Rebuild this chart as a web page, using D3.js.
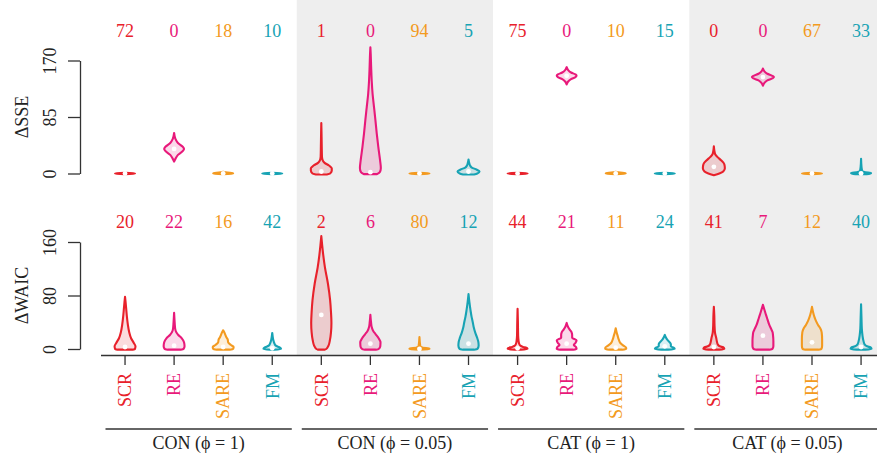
<!DOCTYPE html>
<html>
<head>
<meta charset="utf-8">
<script src="https://cdn.jsdelivr.net/npm/d3@7"></script>
<style>
  body { margin: 0; background: #fff; }
  svg { display: block; font-family: "Liberation Serif", "Times New Roman", serif; }
</style>
</head>
<body>
<svg id="chart" width="877" height="453"></svg>
<script>
// ---- data ----
const methods = ["SCR", "RE", "SARE", "FM"];
const groups = ["CON (ϕ = 1)", "CON (ϕ = 0.05)", "CAT (ϕ = 1)", "CAT (ϕ = 0.05)"];
const methodColors = ["#e8212b", "#e8197a", "#f39a20", "#17a3b4"];

const sseTicks = [0, 85, 170];
const waicTicks = [0, 80, 160];

// number of runs in which each method scored best, per setting
const sseCounts  = [72, 0, 18, 10,  1, 0, 94, 5,  75, 0, 10, 15,  0, 0, 67, 33];
const waicCounts = [20, 22, 16, 42,  2, 6, 80, 12,  44, 21, 11, 24,  41, 7, 12, 40];

// violin outlines: [value, relative half-width]
const flat = [[-1, 0], [-0.4, 0.9], [0.4, 0.9], [1, 0]];
const sseProfiles = [
  flat,
  [[18, 0], [22, 0.12], [28, 0.35], [34, 0.8], [37, 0.9], [40, 0.8], [46, 0.35], [52, 0.12], [61, 0]],
  [[-1, 0], [-0.4, 0.9], [0.4, 0.9], [1.5, 0.4], [2.5, 0]],
  flat,
  [[-1.5, 0.5], [0, 0.8], [4, 0.95], [8, 0.95], [12, 0.7], [16, 0.3], [20, 0.12], [25, 0.06], [40, 0.04], [60, 0.02], [76, 0]],
  [[-1, 0.6], [2, 0.85], [8, 0.95], [20, 0.88], [40, 0.72], [60, 0.58], [80, 0.46], [100, 0.33], [120, 0.2], [140, 0.12], [160, 0.07], [180, 0.03], [190, 0]],
  flat,
  [[-1.5, 0.5], [0, 0.8], [3, 1], [6, 0.72], [9, 0.3], [12, 0.14], [16, 0.06], [21, 0]],
  flat,
  [[134, 0], [138, 0.12], [142, 0.4], [145, 0.8], [147, 0.9], [149, 0.8], [152, 0.4], [156, 0.12], [160, 0]],
  [[-1, 0], [-0.4, 0.9], [0.4, 0.9], [1.5, 0.4], [2.5, 0]],
  flat,
  [[-2.5, 0], [0, 0.5], [3, 0.85], [8, 1], [14, 0.95], [20, 0.65], [25, 0.32], [29, 0.12], [34, 0.05], [41, 0]],
  [[132, 0], [136, 0.12], [140, 0.4], [143, 0.85], [145, 1], [147, 0.85], [150, 0.4], [154, 0.12], [158, 0]],
  flat,
  [[-1, 0.5], [0, 0.9], [1, 0.9], [2, 0.4], [4, 0.1], [10, 0.04], [22, 0]]
];
const sseMedians = [0, 37, 0, 0,  3, 2, 0, 3,  0, 147, 0, 0,  10, 145, 0, 0];

const waicProfiles = [
  [[-1, 0.7], [0, 0.9], [4, 0.95], [9, 0.8], [16, 0.55], [25, 0.38], [36, 0.26], [50, 0.16], [61, 0.1], [70, 0.05], [78, 0]],
  [[-1, 0.6], [0, 0.85], [4, 0.95], [10, 0.9], [16, 0.7], [21, 0.38], [25, 0.2], [30, 0.1], [40, 0.05], [54, 0]],
  [[-1, 0.6], [0, 0.9], [3, 0.95], [6, 0.7], [10, 0.45], [14, 0.42], [18, 0.28], [22, 0.18], [25, 0.1], [28, 0]],
  [[-1, 0.2], [0, 0.8], [2, 0.7], [5, 0.32], [9, 0.18], [14, 0.09], [24, 0]],
  [[-1, 0.3], [0, 0.45], [5, 0.65], [13, 0.78], [25, 0.88], [39, 0.92], [55, 0.88], [73, 0.8], [98, 0.6], [122, 0.33], [140, 0.18], [155, 0.08], [169, 0]],
  [[-1, 0.5], [0, 0.75], [4, 0.9], [10, 0.92], [16, 0.75], [22, 0.48], [27, 0.26], [33, 0.12], [40, 0.06], [51, 0]],
  [[-1, 0], [-0.5, 0.9], [1, 0.9], [2, 0.3], [4, 0.08], [18, 0]],
  [[-1, 0.5], [0, 0.8], [5, 0.92], [10, 0.9], [17, 0.78], [24, 0.62], [32, 0.48], [39, 0.4], [48, 0.28], [58, 0.18], [70, 0.08], [82, 0]],
  [[-1, 0.3], [0, 0.9], [1.5, 0.85], [3, 0.5], [5, 0.25], [8, 0.14], [12, 0.09], [20, 0.05], [40, 0.03], [60, 0]],
  [[-1, 0.6], [0, 0.9], [3, 0.85], [6, 0.65], [9, 0.8], [13, 0.9], [17, 0.5], [21, 0.5], [25, 0.45], [29, 0.28], [33, 0.13], [39, 0]],
  [[-1, 0.6], [0, 0.95], [2, 0.95], [5, 0.7], [9, 0.42], [14, 0.28], [20, 0.17], [25, 0.08], [31, 0]],
  [[-1, 0.3], [0, 0.9], [2, 0.8], [4, 0.55], [7, 0.55], [10, 0.45], [14, 0.22], [18, 0.08], [21, 0]],
  [[-1, 0.5], [0, 0.95], [2, 0.9], [4, 0.55], [7, 0.35], [11, 0.28], [16, 0.22], [25, 0.1], [36, 0.06], [50, 0.04], [63, 0]],
  [[-1, 0.6], [0, 0.85], [4, 0.95], [12, 0.95], [20, 0.92], [25, 0.88], [30, 0.75], [36, 0.58], [44, 0.42], [51, 0.28], [58, 0.15], [66, 0]],
  [[-1, 0.6], [0, 0.85], [5, 0.92], [15, 0.92], [25, 0.88], [31, 0.75], [36, 0.55], [42, 0.36], [48, 0.22], [55, 0.1], [63, 0]],
  [[-1, 0.4], [0, 0.95], [2, 0.9], [4, 0.55], [7, 0.32], [12, 0.22], [20, 0.13], [30, 0.07], [45, 0.04], [67, 0]]
];
const waicMedians = [3, 5, 3, 1,  51, 8, 0, 8,  1, 8, 2, 4,  3, 20, 10, 3];

// ---- layout ----
const svg = d3.select("#chart");
const nCat = groups.length * methods.length;
const x = d3.scaleBand().domain(d3.range(nCat)).range([100.5, 885.6]).padding(0);
const bw = x.bandwidth();
const cx = i => x(i) + bw / 2;
const color = i => methodColors[i % methods.length];
const halfW = d3.scaleLinear().domain([0, 1]).range([0, 11]);

const ySSE = d3.scaleLinear().domain([0, 170]).range([173.5, 60.5]);
const yWAIC = d3.scaleLinear().domain([0, 160]).range([349, 242]);

const axisY = 355;
const fontSize = 18;

// shaded backgrounds for alternate settings
groups.forEach((g, gi) => {
  if (gi % 2 === 1) {
    svg.append("rect")
      .attr("x", x(gi * 4)).attr("y", 0)
      .attr("width", bw * 4).attr("height", axisY)
      .attr("fill", "#eeeeee");
  }
});

function panel(y, ticks, counts, profiles, medians, title, countY) {
  // left axis
  const ax = svg.append("g").attr("transform", "translate(80,0)")
    .call(d3.axisLeft(y).tickValues(ticks).tickSize(12).tickSizeOuter(0).tickPadding(0));
  ax.selectAll("path, line").attr("stroke", "#333").attr("stroke-width", 1.3);
  ax.selectAll("text")
    .attr("x", 0).attr("dy", 0)
    .attr("text-anchor", "middle")
    .attr("transform", "translate(-24,0) rotate(-90)")
    .attr("font-size", fontSize)
    .attr("font-family", "Liberation Serif, serif")
    .attr("fill", "#222");

  svg.append("text")
    .attr("transform", `translate(28,${(y.range()[0] + y.range()[1]) / 2}) rotate(-90)`)
    .attr("text-anchor", "middle")
    .attr("font-size", fontSize)
    .attr("fill", "#222")
    .text(title);

  // counts above violins
  svg.append("g").selectAll("text").data(counts).join("text")
    .attr("x", (d, i) => cx(i)).attr("y", countY)
    .attr("dy", "0.35em")
    .attr("text-anchor", "middle")
    .attr("font-size", fontSize)
    .attr("fill", (d, i) => color(i))
    .text(d => d);

  // violins
  const g = svg.append("g");
  profiles.forEach((prof, i) => {
    const area = d3.area()
      .y(d => y(d[0]))
      .x0(d => cx(i) - halfW(d[1]))
      .x1(d => cx(i) + halfW(d[1]))
      .curve(d3.curveMonotoneY);
    g.append("path")
      .attr("d", area(prof))
      .attr("fill", color(i))
      .attr("fill-opacity", 0.16)
      .attr("stroke", color(i))
      .attr("stroke-width", 2.1)
      .attr("stroke-linejoin", "round");
    g.append("circle")
      .attr("cx", cx(i)).attr("cy", y(medians[i]))
      .attr("r", 2.4)
      .attr("fill", "#fff");
  });
}

panel(ySSE, sseTicks, sseCounts, sseProfiles, sseMedians, "ΔSSE", 31);
panel(yWAIC, waicTicks, waicCounts, waicProfiles, waicMedians, "ΔWAIC", 222);

// bottom axis with method names
const xa = svg.append("g").attr("transform", `translate(0,${axisY})`)
  .call(d3.axisBottom(x).tickSize(10).tickSizeOuter(0).tickFormat(i => methods[i % methods.length]));
xa.selectAll("path, line").attr("stroke", "#333").attr("stroke-width", 1.3);
xa.selectAll("text")
  .attr("x", 0).attr("y", 0).attr("dy", "0.35em")
  .attr("text-anchor", "end")
  .attr("transform", "translate(0,18) rotate(-90)")
  .attr("font-size", fontSize)
  .attr("font-family", "Liberation Serif, serif")
  .attr("fill", (d, i) => color(i));

// setting labels with brackets
groups.forEach((gname, gi) => {
  const x0 = x(gi * 4) + 5, x1 = x(gi * 4) + bw * 4 - 5;
  svg.append("line")
    .attr("x1", x0).attr("x2", x1).attr("y1", 429).attr("y2", 429)
    .attr("stroke", "#333").attr("stroke-width", 1.3);
  svg.append("text")
    .attr("x", (x(gi * 4) + x(gi * 4) + bw * 4) / 2).attr("y", 443)
    .attr("dy", "0.35em")
    .attr("text-anchor", "middle")
    .attr("font-size", fontSize)
    .attr("fill", "#222")
    .text(gname);
});
</script>
</body>
</html>
